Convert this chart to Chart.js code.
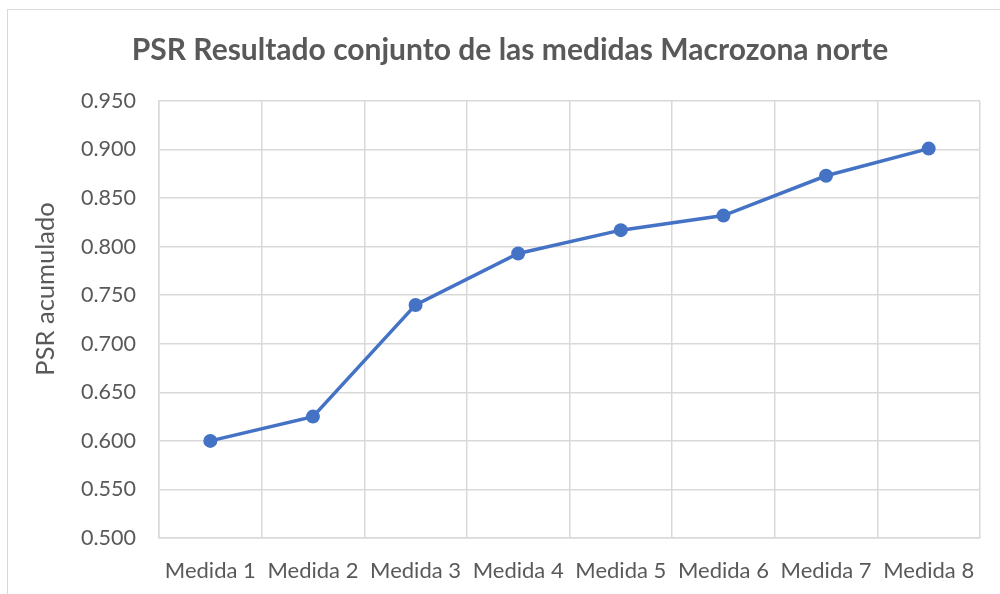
<!DOCTYPE html>
<html>
<head>
<meta charset="utf-8">
<script src="https://cdn.jsdelivr.net/npm/chart.js@4.4.1/dist/chart.umd.min.js"></script>
<style>
  html, body { margin: 0; padding: 0; background: #ffffff; }
  #wrap { position: relative; width: 1000px; height: 594px; overflow: hidden; }
  #frame { position: absolute; left: 7px; top: 9px; width: 1010px; height: 620px; border: 1px solid #d9d9d9; box-sizing: border-box; pointer-events: none; }
  canvas { position: absolute; left: 0; top: 0; }
</style>
</head>
<body>
<div id="wrap">
  <div id="frame"></div>
  <canvas id="c" width="1000" height="594"></canvas>
</div>
<script>
const chartTitle = 'PSR Resultado conjunto de las medidas Macrozona norte';
const yAxisTitle = 'PSR acumulado';
const categories = ['Medida 1', 'Medida 2', 'Medida 3', 'Medida 4', 'Medida 5', 'Medida 6', 'Medida 7', 'Medida 8'];
const psrValues = [0.600, 0.625, 0.740, 0.793, 0.817, 0.832, 0.873, 0.901];
const yTickValues = [0.500, 0.550, 0.600, 0.650, 0.700, 0.750, 0.800, 0.850, 0.900, 0.950];

const textColor = '#595959';
const gridColor = '#d9d9d9';
const lineColor = '#4472C4';
const fontFamily = 'Lato, "Open Sans", sans-serif';

const yTitlePlugin = {
  id: 'yTitle',
  afterDraw(chart) {
    const ctx = chart.ctx;
    ctx.save();
    ctx.translate(46, 289);
    ctx.rotate(-Math.PI / 2);
    ctx.fillStyle = textColor;
    ctx.font = '25.5px ' + fontFamily;
    ctx.textAlign = 'center';
    ctx.textBaseline = 'middle';
    ctx.fillText(yAxisTitle, 0, 0);
    ctx.restore();
  }
};

new Chart(document.getElementById('c'), {
  type: 'line',
  data: {
    labels: categories,
    datasets: [{
      label: yAxisTitle,
      data: psrValues,
      borderColor: lineColor,
      backgroundColor: lineColor,
      borderWidth: 3.5,
      pointRadius: 7,
      pointHoverRadius: 7,
      pointBackgroundColor: lineColor,
      pointBorderColor: lineColor,
      pointBorderWidth: 0,
      tension: 0,
      fill: false
    }]
  },
  options: {
    responsive: false,
    animation: false,
    devicePixelRatio: 1,
    layout: { padding: { left: 40, right: 20, top: 0, bottom: 0 } },
    plugins: {
      legend: { display: false },
      tooltip: { enabled: false },
      title: {
        display: true,
        text: chartTitle,
        color: textColor,
        font: { family: fontFamily, size: 30, weight: 'bold' },
        padding: { top: 32, bottom: 33 }
      }
    },
    scales: {
      x: {
        type: 'category',
        offset: true,
        grid: { display: true, offset: true, color: gridColor, lineWidth: 1.5, drawTicks: false },
        border: { display: true, color: gridColor, width: 1.5 },
        ticks: { color: textColor, font: { family: fontFamily, size: 22 }, padding: 20, maxRotation: 0, autoSkip: false },
        afterFit(axis) { axis.height = 56; }
      },
      y: {
        min: 0.5,
        max: 0.95,
        grid: { color: gridColor, lineWidth: 1.5, drawTicks: false },
        border: { display: true, color: gridColor, width: 1.5 },
        afterBuildTicks(axis) { axis.ticks = yTickValues.map(v => ({ value: v })); },
        ticks: {
          color: textColor,
          font: { family: fontFamily, size: 21.5 },
          padding: 23,
          callback: v => Number(v).toFixed(3)
        },
        afterFit(axis) { axis.width = 119; }
      }
    }
  },
  plugins: [yTitlePlugin]
});
</script>
</body>
</html>
